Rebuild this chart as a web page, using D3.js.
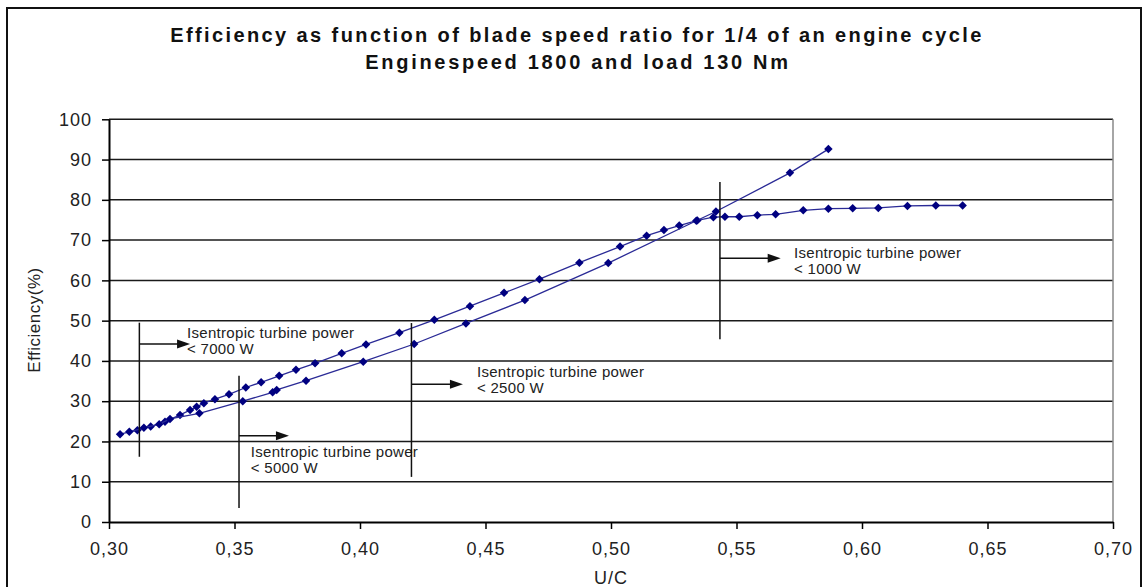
<!DOCTYPE html>
<html>
<head>
<meta charset="utf-8">
<script src="https://cdn.jsdelivr.net/npm/d3@7"></script>
<style>
  html, body { margin: 0; padding: 0; background: #fff; }
  svg { display: block; font-family: "Liberation Sans", Arial, sans-serif; }
</style>
</head>
<body>
<svg id="chart" width="1143" height="587"></svg>
<script>
// ---------- data ----------
const titleLines = ["Efficiency as function of blade speed ratio for 1/4 of an engine cycle",
                    "Enginespeed 1800 and load 130 Nm"];
const xLabel = "U/C";
const yLabel = "Efficiency(%)";
const xTicks = [0.30, 0.35, 0.40, 0.45, 0.50, 0.55, 0.60, 0.65, 0.70];
const yTicks = [0, 10, 20, 30, 40, 50, 60, 70, 80, 90, 100];

// series 1 (flattens near 78 %)
const u1 = [0.3044, 0.3113, 0.3166, 0.3223, 0.3283, 0.3323, 0.3349, 0.3378, 0.3422, 0.3478,
            0.3545, 0.3606, 0.3678, 0.3745, 0.3821, 0.3927, 0.4024, 0.4157, 0.4296, 0.4438,
            0.4574, 0.4715, 0.4874, 0.5036, 0.5142, 0.5211, 0.5272, 0.5344, 0.5408, 0.5454,
            0.5511, 0.5583, 0.5656, 0.5766, 0.5866, 0.5963, 0.6065, 0.6181, 0.6294, 0.6401];
const e1 = [21.8, 22.8, 23.7, 24.9, 26.6, 27.8, 28.6, 29.5, 30.5, 31.7,
            33.4, 34.7, 36.3, 37.8, 39.4, 41.9, 44.1, 47.0, 50.2, 53.6,
            56.9, 60.3, 64.4, 68.4, 71.1, 72.5, 73.6, 74.9, 75.7, 75.8,
            75.8, 76.2, 76.4, 77.4, 77.8, 77.9, 78.0, 78.5, 78.6, 78.6];

// series 2 (steep, up to 92.6 %)
const u2 = [0.3081, 0.3139, 0.3200, 0.3243, 0.3360, 0.3533, 0.3652, 0.3668, 0.3785, 0.4013,
            0.4216, 0.4422, 0.4657, 0.4989, 0.5340, 0.5418, 0.5713, 0.5866];
const e2 = [22.4, 23.4, 24.3, 25.6, 27.0, 30.0, 32.2, 32.8, 35.1, 39.8,
            44.2, 49.3, 55.1, 64.3, 74.8, 77.1, 86.7, 92.6];

// annotation limits
const limitLabels = ["< 7000 W", "< 5000 W", "< 2500 W", "< 1000 W"];
const limitText = "Isentropic turbine power";
const limitU = [0.3121, 0.3518, 0.4205, 0.5434];
const limitTop = [49.5, 36.3, 49.4, 84.4];
const limitBottom = [16.2, 3.5, 11.2, 45.4];
const limitArrowE = [44.2, 21.4, 34.2, 65.5];
const limitArrowU = [0.3323, 0.3717, 0.4410, 0.5676];
const limitTextU = [0.3311, 0.3565, 0.4466, 0.5729];
const limitTextE = [45.7, 16.2, 36.1, 65.6];

// ---------- layout ----------
const svg = d3.select("#chart");
const L = 109, R = 1113, T = 119.3, B = 522;
const x = d3.scaleLinear().domain([0.30, 0.70]).range([L, R]);
const y = d3.scaleLinear().domain([0, 100]).range([B, T]);
const navy = "#000080";

// outer frame
svg.append("rect").attr("x", 7).attr("y", 8).attr("width", 1134).attr("height", 620)
  .attr("fill", "none").attr("stroke", "#111").attr("stroke-width", 2);

// title
svg.append("text").attr("x", 577).attr("y", 42).attr("text-anchor", "middle")
  .attr("font-size", 20).attr("font-weight", "bold").attr("letter-spacing", 2.4)
  .attr("fill", "#111").text(titleLines[0]);
svg.append("text").attr("x", 578).attr("y", 68.5).attr("text-anchor", "middle")
  .attr("font-size", 20).attr("font-weight", "bold").attr("letter-spacing", 2.7)
  .attr("fill", "#111").text(titleLines[1]);

// gridlines
svg.append("g").selectAll("line").data(yTicks.filter(d => d > 0)).join("line")
  .attr("x1", L).attr("x2", R).attr("y1", d => y(d)).attr("y2", d => y(d))
  .attr("stroke", "#1a1a1a").attr("stroke-width", 1.5);
// right border of plot
svg.append("line").attr("x1", R).attr("x2", R).attr("y1", T).attr("y2", B)
  .attr("stroke", "#888").attr("stroke-width", 1.5);

// axes
const fmtComma = d => d3.format(".2f")(d).replace(".", ",");
const yAxis = svg.append("g").attr("transform", `translate(${L},0)`)
  .call(d3.axisLeft(y).tickValues(yTicks).tickSize(7).tickPadding(10).tickSizeOuter(0));
const xAxis = svg.append("g").attr("transform", `translate(0,${B})`)
  .call(d3.axisBottom(x).tickValues(xTicks).tickSize(7).tickPadding(13).tickFormat(fmtComma).tickSizeOuter(0));
[yAxis, xAxis].forEach(g => {
  g.select(".domain").attr("stroke", "#000").attr("stroke-width", 2);
  g.selectAll(".tick line").attr("stroke", "#000").attr("stroke-width", 1.5);
  g.selectAll(".tick text").attr("font-size", 18).attr("letter-spacing", 1)
    .attr("fill", "#222").attr("font-family", "Liberation Sans, Arial, sans-serif");
});

// axis titles
svg.append("text").attr("transform", "translate(39.5,320) rotate(-90)")
  .attr("text-anchor", "middle").attr("font-size", 17).attr("letter-spacing", 0.5)
  .attr("fill", "#222").text(yLabel);
svg.append("text").attr("x", 611).attr("y", 584).attr("text-anchor", "middle")
  .attr("font-size", 18).attr("letter-spacing", 1).attr("fill", "#222").text(xLabel);

// series
const line = d3.line().x(d => x(d[0])).y(d => y(d[1]));
const s1 = u1.map((u, i) => [u, e1[i]]);
const s2 = u2.map((u, i) => [u, e2[i]]);
const diamond = d3.symbol().type(d3.symbolDiamond2).size(46);
[s1, s2].forEach(s => {
  svg.append("path").datum(s).attr("d", line).attr("fill", "none")
    .attr("stroke", "#2a2a96").attr("stroke-width", 1.3);
  svg.append("g").selectAll("path").data(s).join("path")
    .attr("d", diamond).attr("transform", d => `translate(${x(d[0])},${y(d[1])})`)
    .attr("fill", navy);
});

// annotations
const ann = svg.append("g");
limitU.forEach((u, i) => {
  ann.append("line").attr("x1", x(u)).attr("x2", x(u))
    .attr("y1", y(limitTop[i])).attr("y2", y(limitBottom[i]))
    .attr("stroke", "#111").attr("stroke-width", 1.5);
  const ay = y(limitArrowE[i]), ax = x(limitArrowU[i]);
  ann.append("line").attr("x1", x(u)).attr("x2", ax - 10).attr("y1", ay).attr("y2", ay)
    .attr("stroke", "#111").attr("stroke-width", 1.5);
  ann.append("path").attr("d", `M${ax},${ay} L${ax - 13},${ay - 4.5} L${ax - 13},${ay + 4.5} Z`)
    .attr("fill", "#111");
  const t = ann.append("text").attr("x", x(limitTextU[i])).attr("y", y(limitTextE[i]))
    .attr("font-size", 15).attr("letter-spacing", 0.3).attr("fill", "#222");
  t.append("tspan").text(limitText);
  t.append("tspan").attr("x", x(limitTextU[i])).attr("dy", 16).text(limitLabels[i]);
});
</script>
</body>
</html>
